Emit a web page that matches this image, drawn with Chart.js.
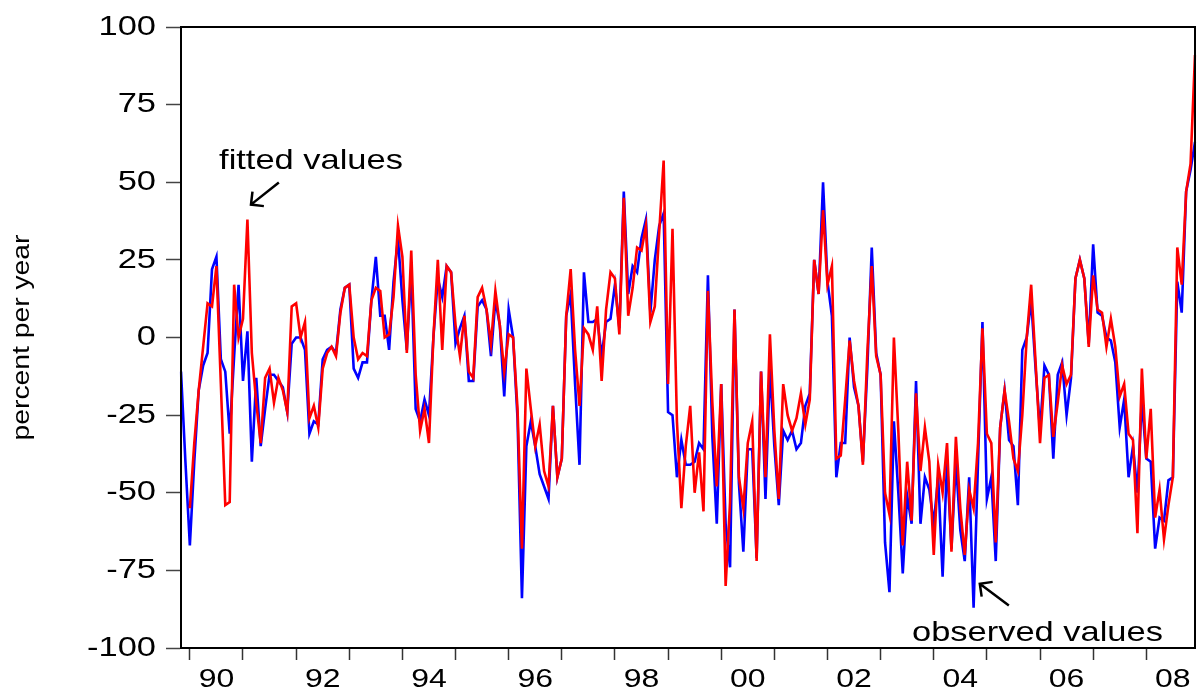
<!DOCTYPE html>
<html>
<head>
<meta charset="utf-8">
<script src="https://cdn.jsdelivr.net/npm/chart.js@4.4.0/dist/chart.umd.min.js"></script>
<style>
html,body{margin:0;padding:0;background:#fff;}
#wrap{width:1197px;height:695px;position:relative;}
</style>
</head>
<body>
<div id="wrap"><canvas id="c"></canvas></div>
<script>
// Monthly sample 1989M11 - 2008M12
const firstYear = 1989, firstMonth = 11, nObs = 230;

const observed = [
-11,-40,-67,-40,-17,-9,-5,22,26,-7,
-11,-31,-6,17,-14,2,-40,-13,-35,-23,
-12,-12,-14,-16,-24,-2,0,0,-4,-31,
-27,-28,-7,-4,-3,-5,9,16,17,-10,
-13,-8,-8,12,26,7,7,-4,18,32,
12,-4,22,-23,-27,-20,-25,0,19,13,
23,21,-2,3,7,-14,-14,10,12,9,
-6,12,4,-19,9,0,-26,-84,-35,-27,
-35,-44,-48,-52,-22,-45,-39,7,14,-15,
-41,21,5,5,6,-6,5,6,17,3,
47,14,23,21,32,38,8,25,36,40,
-24,-25,-45,-33,-41,-41,-40,-34,-36,20,
-32,-60,-15,-60,-74,9,-47,-69,-36,-36,
-71,-11,-52,-10,-35,-54,-30,-33,-30,-36,
-34,-22,-18,25,14,50,18,7,-45,-34,
-34,0,-16,-22,-40,-10,29,-5,-12,-66,
-82,-27,-50,-76,-51,-60,-14,-60,-45,-49,
-60,-45,-77,-40,-68,-40,-62,-72,-45,-87,
-40,5,-52,-45,-72,-29,-17,-33,-35,-54,
-4,0,12,-10,-30,-9,-12,-39,-12,-8,
-25,-13,19,25,19,-2,30,8,7,0,
-1,-8,-29,-20,-45,-35,-50,-20,-39,-40,
-68,-58,-59,-46,-45,18,8,47,54,63
];

const fitted = [
null,null,-55,-34,-17,-3,11,10,23,-15,
-54,-53,17,0,6,38,-5,-21,-34,-13,
-10,-21,-13,-17,-24,10,11,0,5,-26,
-22,-29,-10,-5,-3,-6,8,16,17,0,
-7,-5,-6,12,16,15,0,1,13,36,
26,-5,28,-12,-30,-23,-34,0,25,-4,
23,21,4,-6,7,-11,-13,13,16,9,
-2,15,4,-11,1,0,-23,-68,-10,-23,
-35,-28,-43,-48,-22,-45,-39,7,22,-4,
-22,3,1,-4,10,-14,9,21,19,1,
45,7,16,29,28,36,5,10,34,57,
-15,35,-27,-55,-35,-22,-50,-37,-56,15,
-21,-48,-15,-80,-53,9,-45,-55,-34,-27,
-72,-11,-45,1,-30,-52,-15,-25,-30,-26,
-18,-28,-20,25,14,41,17,23,-39,-38,
-20,-1,-14,-22,-41,-5,23,-6,-12,-50,
-57,0,-30,-67,-40,-59,-18,-43,-29,-40,
-70,-41,-50,-34,-69,-32,-55,-70,-49,-55,
-34,3,-31,-34,-66,-29,-17,-27,-39,-43,
-25,0,17,-8,-34,-13,-12,-32,-21,-9,
-15,-12,19,25,19,-3,20,9,8,-3,
6,-3,-19,-15,-31,-33,-63,-10,-39,-23,
-58,-49,-65,-54,-45,29,17,47,56,91
];

const xTickLabels = ['90','92','94','96','98','00','02','04','06','08'];
const yTickValues = [-100,-75,-50,-25,0,25,50,75,100];
const yAxisTitle = 'percent per year';

// annotations placed in data units (x = observation index, y = value)
const notes = [
  {text:'fitted values',   tx:8.6,   ty:54.3,  ax0:22.1,  ay0:49.9,  ax1:15.8,  ay1:42.8},
  {text:'observed values', tx:165.1, ty:-97.6, ax0:186.96,ay0:-86.3, ax1:180.4, ay1:-79.3}
];

// month labels
const monthYear = [], monthNum = [], months = [];
for (let i = 0; i < nObs; i++) {
  const k = (firstMonth - 1) + i;
  const y = firstYear + Math.floor(k / 12);
  const m = (k % 12) + 1;
  monthYear.push(y); monthNum.push(m);
  months.push(y + 'M' + m);
}

const FONT = "'Liberation Sans', Arial, sans-serif";
Chart.defaults.font.family = FONT;
const SX = 1.23; // horizontal stretch of the lettering, as in the original graphic

const decor = {
  id: 'decor',
  beforeDraw(chart) {
    const ctx = chart.ctx;
    if (!ctx.__wide) {
      const orig = CanvasRenderingContext2D.prototype.fillText;
      ctx.fillText = function(t, x, y, mw) {
        this.save();
        this.translate(x, y);
        this.scale(SX, 1);
        if (mw === undefined || mw === null) orig.call(this, t, 0, 0);
        else orig.call(this, t, 0, 0, mw / SX);
        this.restore();
      };
      ctx.__wide = true;
    }
  },
  afterDraw(chart) {
    const ctx = chart.ctx, a = chart.chartArea;
    const xs = chart.scales.x, ys = chart.scales.y;
    ctx.save();
    ctx.strokeStyle = '#000';
    ctx.lineWidth = 2;
    ctx.strokeRect(a.left, a.top, a.right - a.left, a.bottom - a.top);
    ctx.fillStyle = '#000';
    ctx.font = '28px ' + FONT;
    ctx.textAlign = 'left';
    ctx.textBaseline = 'alphabetic';
    notes.forEach(n => {
      ctx.fillText(n.text, xs.getPixelForValue(n.tx), ys.getPixelForValue(n.ty));
      const x0 = xs.getPixelForValue(n.ax0), y0 = ys.getPixelForValue(n.ay0);
      const x1 = xs.getPixelForValue(n.ax1), y1 = ys.getPixelForValue(n.ay1);
      ctx.lineWidth = 2.5;
      ctx.beginPath();
      ctx.moveTo(x0, y0); ctx.lineTo(x1, y1);
      const ang = Math.atan2(y0 - y1, x0 - x1);
      const L = 13, w = Math.PI / 4;
      ctx.moveTo(x1 + L * Math.cos(ang - w), y1 + L * Math.sin(ang - w));
      ctx.lineTo(x1, y1);
      ctx.lineTo(x1 + L * Math.cos(ang + w), y1 + L * Math.sin(ang + w));
      ctx.stroke();
    });
    ctx.restore();
  }
};

new Chart(document.getElementById('c'), {
  type: 'line',
  data: {
    labels: months,
    datasets: [
      {label:'fitted values', data: fitted, borderColor:'#ff0000', borderWidth:2.6,
       pointRadius:0, tension:0, fill:false},
      {label:'observed values', data: observed, borderColor:'#0000ff', borderWidth:2.6,
       pointRadius:0, tension:0, fill:false}
    ]
  },
  options: {
    responsive: true,
    maintainAspectRatio: false,
    animation: false,
    layout: {padding: {top: 27, right: 2, left: 0, bottom: 0}},
    plugins: {legend: {display: false}, tooltip: {enabled: false}},
    scales: {
      x: {
        type: 'category',
        offset: false,
        grid: {
          display: true, drawOnChartArea: false, drawTicks: true, offset: false,
          tickLength: 12, tickWidth: 1.5,
          tickColor: c => (monthNum[c.index] === 1 ? '#333' : 'rgba(0,0,0,0)')
        },
        border: {display: true, color: '#000', width: 2},
        ticks: {
          autoSkip: false, maxRotation: 0, minRotation: 0, padding: 4,
          color: '#000', font: {size: 26},
          callback: (v, i) => {
            const lab = String(monthYear[i] % 100).padStart(2, '0');
            return (monthNum[i] === 7 && xTickLabels.includes(lab)) ? lab : '';
          }
        },
        afterFit: s => { s.height = 47; s.paddingLeft = 0; s.paddingRight = 0; }
      },
      y: {
        min: -100, max: 100,
        afterBuildTicks: s => { s.ticks = yTickValues.map(v => ({value: v})); },
        ticks: {color: '#000', font: {size: 28}, padding: 10},
        grid: {drawOnChartArea: false, tickLength: 15, tickColor: '#444', tickWidth: 1.5},
        border: {display: true, color: '#000', width: 2},
        title: {display: true, text: yAxisTitle, color: '#000', font: {size: 23},
                padding: {top: 9, bottom: 0}},
        afterFit: s => { s.width = 181; s.paddingTop = 0; s.paddingBottom = 0; }
      }
    }
  },
  plugins: [decor]
});
</script>
</body>
</html>
